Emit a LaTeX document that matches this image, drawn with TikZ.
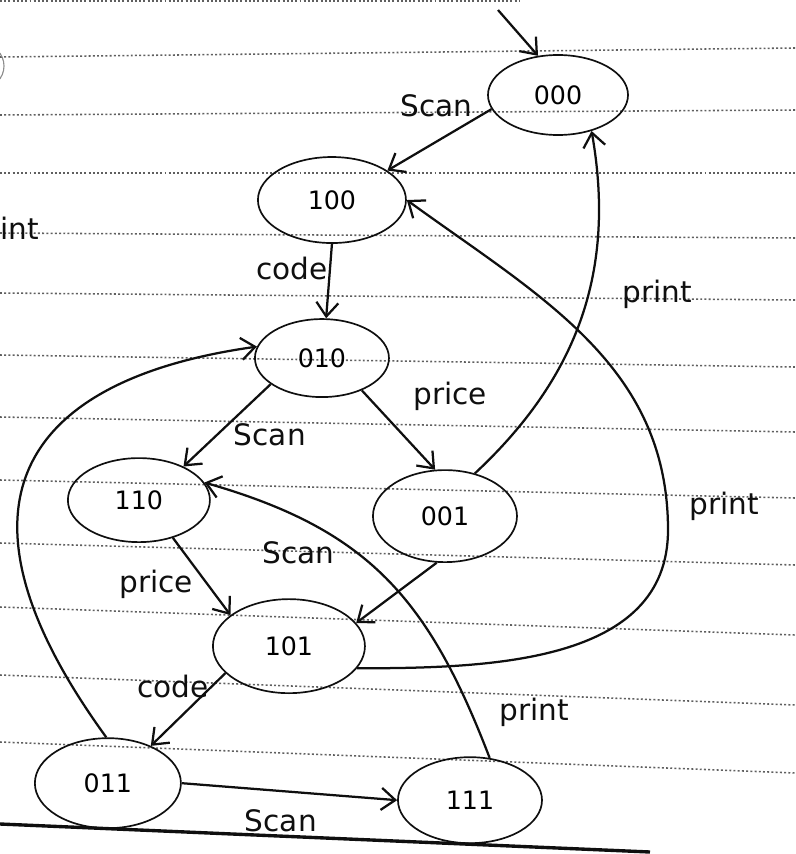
\documentclass[tikz,border=0pt]{standalone}
\usepackage{fontspec}
\newfontfamily\handfont{DejaVu Sans}
\usetikzlibrary{shapes.geometric,arrows.meta,positioning}
\definecolor{InkBlack}{RGB}{15,15,15}
\definecolor{RuleGray}{RGB}{95,95,95}

\begin{document}
\begin{tikzpicture}[
    x=0.025cm, y=-0.025cm,
    state/.style={draw=InkBlack, ellipse, line width=1.2pt, on grid, minimum width=3.6cm, minimum height=2.15cm, inner sep=0pt, font=\handfont\fontsize{18}{18}\selectfont},
    lbl/.style={font=\handfont\fontsize{21}{21}\selectfont, inner sep=1pt, text=InkBlack},
    arrow/.style={-{Straight Barb[length=3.5mm,width=5.5mm]}, line width=1.6pt, draw=InkBlack},
    ruling/.style={dash pattern=on 1.4pt off 1.6pt, line width=1.1pt, RuleGray}
  ]
    \useasboundingbox (0,0) rectangle (795,854);
    \clip (0,0) rectangle (795,854);

    % ruled paper
    \foreach \l/\r in {57/48, 115/110, 173/173, 233/238, 293/300, 355/367, 417/432, 480/498, 543/565, 607/635, 675/705, 742/773}
      \draw[ruling] (0,\l) -- (795,\r);
    \draw[ruling] (0,1) -- (520,1);
    \draw[line width=2.4pt, InkBlack] (0,824) -- (650,852);
    \draw[line width=0.8pt, black!45] (-18,66) circle (22);
    \node[lbl, anchor=west] (frag) at (-1,228) {int};

    % states
    \node[state, minimum width=3.5cm, minimum height=2cm] (s000) at (558,95) {000};
    \node[state, minimum width=3.7cm, below left=2.625cm and 5.65cm of s000] (s100) {100};
    \node[state, minimum width=3.35cm, minimum height=1.95cm, below left=3.95cm and 0.25cm of s100] (s010) {010};
    \node[state, minimum width=3.55cm, minimum height=2.1cm, below left=3.55cm and 4.575cm of s010] (s110) {110};
    \node[state, minimum height=2.3cm, below right=3.95cm and 3.075cm of s010] (s001) {001};
    \node[state, minimum width=3.8cm, minimum height=2.35cm, below right=3.65cm and 3.75cm of s110] (s101) {101};
    \node[state, minimum width=3.65cm, minimum height=2.25cm, below left=3.425cm and 4.525cm of s101] (s011) {011};
    \node[state, below right=0.425cm and 9.05cm of s011] (s111) {111};

    \coordinate (init) at (498,10);
    \coordinate (pbend) at (668,530);

    % transitions
    \draw[arrow] (init) -- (s000.117);
    \draw[arrow] (s000.192) -- node[lbl, pos=0.16, anchor=south east] {Scan} (s100.28);
    \draw[arrow] (s100.south) -- node[lbl, pos=0.33, left] {code} (s010.84);
    \draw[arrow] (s010.207) -- node[lbl, pos=0.45, below right] {Scan} (s110.37);
    \draw[arrow] (s010.321) -- node[lbl, pos=0.07, right=1.1cm] {price} (s001.102);
    \draw[arrow] (s001.55) to[out=43, in=-80] node[lbl, pos=0.57, right=0.8cm] {print} (s000.313);
    \draw[arrow] (s101.342) to[out=0, in=-90] (pbend) to[out=90, in=-36] node[lbl, pos=0.05, right=0.5cm] {print} (s100.east);
    \draw[arrow] (s001.260) -- (s101.19);
    \draw[arrow] (s110.312) -- node[lbl, pos=0.6, left=0.3cm] {price} (s101.152);
    \draw[arrow] (s101.203) -- node[lbl, pos=0.19, left] {code} (s011.41);
    \draw[arrow] (s011.92) to[out=126, in=-172, out looseness=1.85, in looseness=1.35] (s010.170);
    \draw[arrow] (s011.east) -- node[lbl, pos=0.46, below=0.4cm] {Scan} (s111.west);
    \draw[arrow] (s111.65) to[out=111, in=-16, looseness=1.1]
      node[lbl, pos=0.1, right=0.65cm] {print}
      node[lbl, pos=0.67, anchor=north east] {Scan} (s110.15);
\end{tikzpicture}
\end{document}
